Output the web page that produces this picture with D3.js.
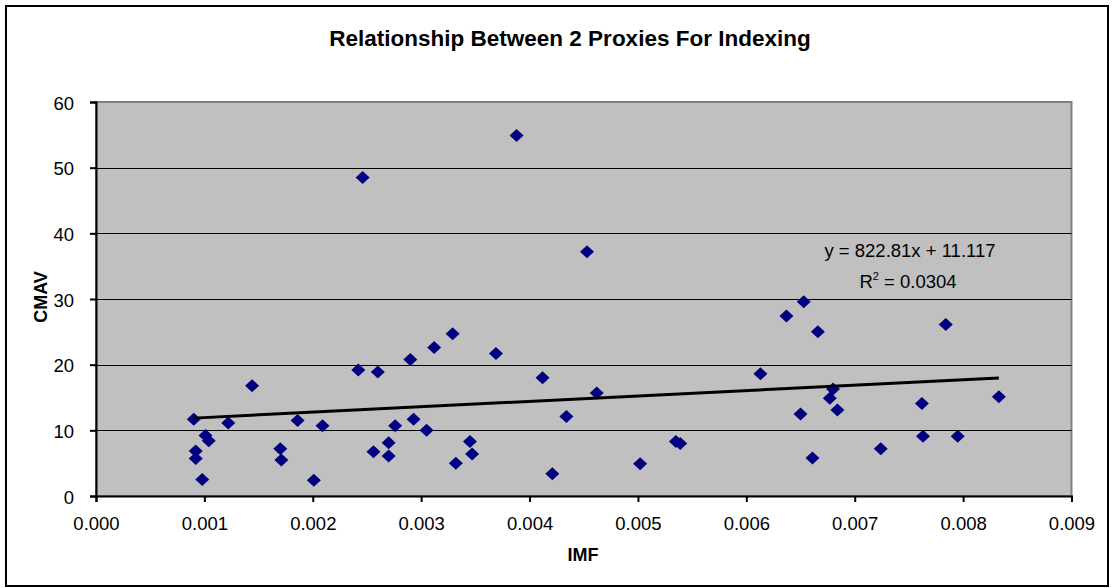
<!DOCTYPE html>
<html><head><meta charset="utf-8">
<script src="https://cdn.jsdelivr.net/npm/d3@7"></script>
<style>body{margin:0;background:#fff;}svg{display:block;font-family:Arial,"Liberation Sans",sans-serif;}</style>
</head><body><svg id="chart" width="1113" height="588"></svg>
<script>
const imf = [0.000902,0.00092,0.00092,0.00098,0.00101,0.00104,0.00122,0.00144,0.0017,0.00171,0.00186,0.00201,0.00209,0.00242,0.00246,0.00256,0.0026,0.0027,0.0027,0.00276,0.0029,0.00293,0.00305,0.00312,0.00329,0.00332,0.00345,0.00347,0.00369,0.00388,0.00412,0.00421,0.00434,0.00453,0.00462,0.00502,0.00535,0.00539,0.00613,0.00637,0.0065,0.00653,0.00661,0.00666,0.00677,0.0068,0.00684,0.00724,0.00762,0.00763,0.00784,0.00795,0.00833];
const cmav = [11.7,6.85,5.7,2.5,9.2,8.4,11.1,16.8,7.2,5.5,11.5,2.4,10.7,19.2,48.5,6.75,18.9,8.1,6.1,10.7,20.8,11.7,10.0,22.6,24.7,5.0,8.3,6.4,21.7,54.9,18.0,3.4,12.1,37.2,15.7,4.9,8.3,8.0,18.6,27.4,12.5,29.6,5.8,25.0,14.9,16.3,13.1,7.2,14.1,9.1,26.1,9.1,15.1];
const xTicks = [0,0.001,0.002,0.003,0.004,0.005,0.006,0.007,0.008,0.009];
const yTicks = [0,10,20,30,40,50,60];
const trendSlope = 822.81, trendIntercept = 11.117;
const trendLabel = "y = 822.81x + 11.117";
const r2Value = "0.0304";

const svg = d3.select("#chart");
const L = 96, R = 1071.5, T = 102, B = 496;
const x = d3.scaleLinear().domain([0,0.009]).range([L,R]);
const y = d3.scaleLinear().domain([0,60]).range([B,T]);

// outer frame
svg.append("rect").attr("x",6).attr("y",6).attr("width",1102).attr("height",580)
  .attr("fill","#fff").attr("stroke","#000").attr("stroke-width",2);

// plot background
svg.append("rect").attr("x",L).attr("y",T).attr("width",R-L).attr("height",B-T)
  .attr("fill","#C0C0C0").attr("stroke","#808080").attr("stroke-width",2);

// gridlines
svg.append("g").selectAll("line").data(yTicks.filter(d=>d>0 && d<60)).join("line")
  .attr("x1",L).attr("x2",R).attr("y1",d=>Math.round(y(d))+0.5).attr("y2",d=>Math.round(y(d))+0.5)
  .attr("stroke","#000").attr("stroke-width",1);

// axes
const xAxis = svg.append("g").attr("transform",`translate(0,${B})`)
  .call(d3.axisBottom(x).tickValues(xTicks).tickFormat(d3.format(".3f")).tickSize(6).tickPadding(0));
const yAxis = svg.append("g").attr("transform",`translate(${L},0)`)
  .call(d3.axisLeft(y).tickValues(yTicks).tickSize(6).tickPadding(16));
[xAxis,yAxis].forEach(g=>{
  g.select(".domain").attr("stroke","#000").attr("stroke-width",2);
  g.selectAll(".tick line").attr("stroke","#000").attr("stroke-width",2);
  g.selectAll(".tick text").attr("fill","#000").style("font-size","18.5px").style("font-family","Arial, 'Liberation Sans', sans-serif");
});
yAxis.selectAll(".tick text").attr("dy","0.38em");
xAxis.selectAll(".tick text").attr("y",34).attr("dy",0);

// points
const diamond = "M0,-6.5L7,0L0,6.5L-7,0Z";
svg.append("g").selectAll("path").data(imf.map((v,i)=>[v,cmav[i]])).join("path")
  .attr("d",diamond).attr("transform",d=>`translate(${x(d[0])},${y(d[1])})`)
  .attr("fill","#000080");

// trend line
const xmin = d3.min(imf), xmax = d3.max(imf);
svg.append("line")
  .attr("x1",x(xmin)).attr("y1",y(trendSlope*xmin+trendIntercept))
  .attr("x2",x(xmax)).attr("y2",y(trendSlope*xmax+trendIntercept))
  .attr("stroke","#000").attr("stroke-width",3);

// equation label
svg.append("text").attr("x",910).attr("y",257).attr("text-anchor","middle")
  .style("font-size","18.5px").attr("fill","#000").text(trendLabel);
const r2 = svg.append("text").attr("x",908).attr("y",288).attr("text-anchor","middle")
  .style("font-size","18.5px").attr("fill","#000");
r2.append("tspan").text("R");
r2.append("tspan").attr("dy","-8").style("font-size","11px").text("2");
r2.append("tspan").attr("dy","8").text(" = " + r2Value);

// titles
svg.append("text").attr("x",570).attr("y",46).attr("text-anchor","middle")
  .style("font-size","22.5px").style("font-weight","bold").text("Relationship Between 2 Proxies For Indexing");
svg.append("text").attr("x",583).attr("y",561).attr("text-anchor","middle")
  .style("font-size","18px").style("font-weight","bold").text("IMF");
svg.append("text").attr("transform","translate(46.5,297) rotate(-90)").attr("text-anchor","middle")
  .style("font-size","18px").style("font-weight","bold").text("CMAV");
</script></body></html>
